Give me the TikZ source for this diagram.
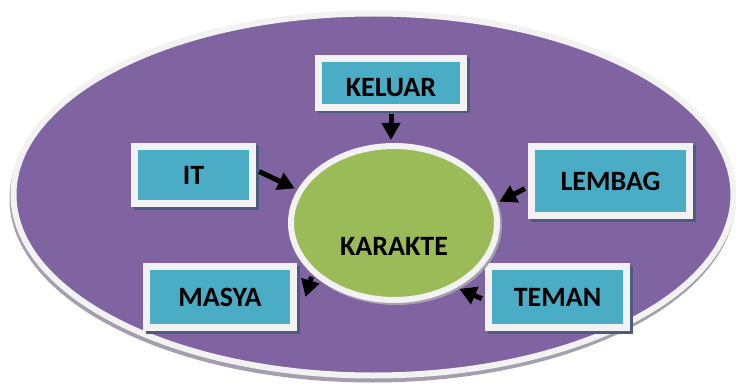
\documentclass[tikz,border=0pt]{standalone}
\usepackage{fontspec}
\setmainfont{Carlito}
\usetikzlibrary{arrows.meta,calc,shapes.geometric}
\definecolor{bgpurple}{HTML}{8064A2}
\definecolor{boxblue}{HTML}{4BACC6}
\definecolor{kgreen}{HTML}{9BBB59}
\definecolor{rimwhite}{HTML}{F2F2F2}
\definecolor{boxshadow}{HTML}{4E5A7E}
\definecolor{ovalshadow}{HTML}{A49EAE}
\begin{document}
\begin{tikzpicture}[x=1pt,y=-1pt,
  lbl/.style={font=\fontsize{28}{30}\selectfont\bfseries, text=black},
  topicbox/.style={lbl, rectangle, fill=boxblue, draw=rimwhite, line width=7pt,
    text height=19pt, text depth=0pt, inner sep=0pt,
    preaction={draw=boxshadow, fill=boxshadow, line width=7pt,
      transform canvas={shift={(2.5pt,-2.5pt)}}}},
  core/.style={lbl, ellipse, fill=kgreen, draw=rimwhite, line width=6pt,
    minimum width=206pt, minimum height=154pt, text height=64pt, text depth=0pt,
    inner sep=0pt,
    preaction={draw=ovalshadow, line width=6pt,
      transform canvas={shift={(2pt,-2pt)}}}},
  arr/.style={-{Triangle[width=18pt,length=17pt]}, line width=5pt, black}]
\fill[white] (0,0) rectangle (736,385);
\useasboundingbox (0,0) rectangle (736,385);
% background oval
\fill[ovalshadow] (372.5,198.5) ellipse [x radius=363, y radius=184];
\draw[rimwhite, line width=6pt, fill=bgpurple] (373.5,194.5) ellipse [x radius=360, y radius=181];
% topic boxes
\node[topicbox, minimum width=145pt, minimum height=49pt, text height=28pt] (keluar) at (391,83) {KELUAR};
\node[topicbox, minimum width=118pt, minimum height=57pt] (it) at (193.5,175) {IT};
\node[topicbox, minimum width=158pt, minimum height=69pt] (lembag) at (610.5,181) {LEMBAG};
\node[topicbox, minimum width=147pt, minimum height=61pt] (masya) at (220,297) {MASYA};
\node[topicbox, minimum width=138pt, minimum height=61pt] (teman) at (557.5,297) {TEMAN};
% core
\node[core] (ka) at (394,223) {KARAKTE};
% arrows
\draw[arr, shorten <=3.5pt, shorten >=3pt] (keluar.south) -- (keluar.south |- ka.north);
\draw[arr, shorten <=3.5pt, shorten >=3pt] ($(it.east)+(0,-5)$) -- (ka.161);
\draw[arr, shorten <=3.5pt, shorten >=3pt] ($(lembag.west)+(0,6)$) -- (ka.11);
\draw[arr, shorten <=3pt] (ka.212) -- ($(masya.east)+(8.5,0)$);
\draw[arr, shorten <=3.5pt, shorten >=3pt] ($(teman.west)+(0,3)$) -- (ka.314);
\end{tikzpicture}
\end{document}
